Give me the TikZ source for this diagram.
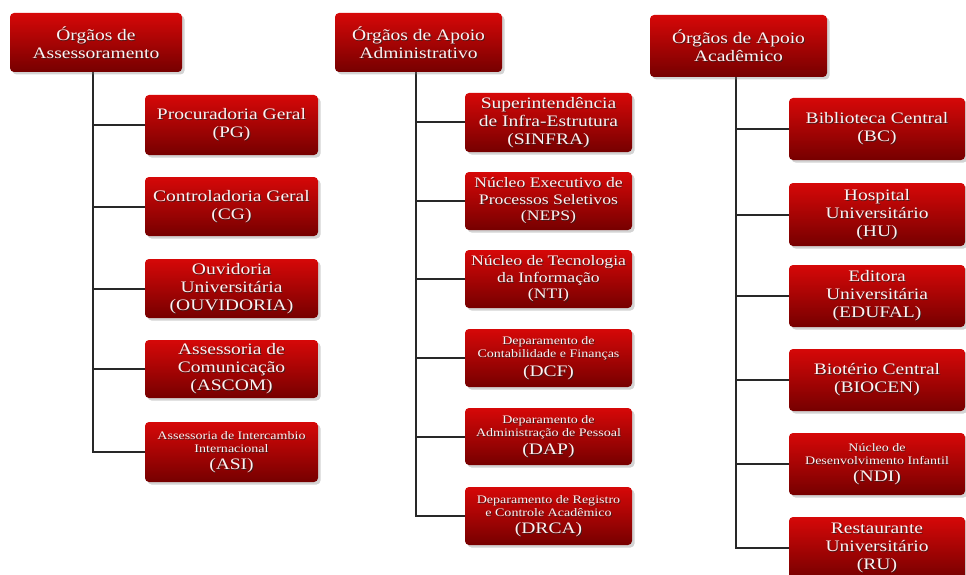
\documentclass[tikz,border=0pt]{standalone}
\usepackage{fontspec}
\setmainfont[FakeStretch=1.22]{Liberation Serif}
\usetikzlibrary{shadows,backgrounds}
\definecolor{boxtop}{RGB}{214,8,8}
\definecolor{boxbot}{RGB}{118,0,0}
\definecolor{linec}{RGB}{40,40,40}
\newcommand{\bigtxt}{\fontsize{16}{18}\selectfont}
\newcommand{\medtxt}{\fontsize{14.5}{16.5}\selectfont}
\newcommand{\smltxt}{\fontsize{11.5}{13}\selectfont}
\tikzset{
  orgbox/.style={rectangle, rounded corners=4pt, top color=boxtop, bottom color=boxbot,
    draw=none, align=center, text=white, inner sep=0pt,
    drop shadow={opacity=0.35, shadow xshift=2.5pt, shadow yshift=-2.5pt}},
  txtshadow/.style={align=center, text=black!85, opacity=0.75, inner sep=0pt},
  txtfront/.style={align=center, text=white!94!red, inner sep=0pt},
  conn/.style={draw=linec, line width=2pt}
}
\newcommand{\orgnode}[6]{%
  \node[orgbox, minimum width=#3pt, minimum height=#4pt] (#1) at (#2) {};
  \node[txtshadow, font=#5] (#1-s) at ([xshift=0.9pt,yshift=-1pt]#1.center) {#6};
  \node[txtfront, font=#5] (#1-t) at (#1.center) {#6};
}
\begin{document}
\begin{tikzpicture}[x=1pt,y=-1pt]
\useasboundingbox (0,0) rectangle (966,575);
% column 1
\orgnode{h1}{96,42.5}{172}{59}{\bigtxt}{Órgãos de\\Assessoramento}
\orgnode{pg}{231.5,125}{173}{60}{\bigtxt}{Procuradoria Geral\\(PG)}
\orgnode{cg}{231.5,206.5}{173}{59}{\bigtxt}{Controladoria Geral\\(CG)}
\orgnode{ouv}{231.5,288.5}{173}{59}{\bigtxt}{Ouvidoria\\Universitária\\(OUVIDORIA)}
\orgnode{ascom}{231.5,369}{173}{58}{\bigtxt}{Assessoria de\\Comunicação\\(ASCOM)}
\orgnode{asi}{231.5,452}{173}{60}{\smltxt}{Assessoria de Intercambio\\Internacional\\[4pt]\bigtxt (ASI)}
% column 2
\orgnode{h2}{418.5,42.5}{167}{59}{\bigtxt}{Órgãos de Apoio\\Administrativo}
\orgnode{sinfra}{548.5,122.5}{167}{59}{\bigtxt}{Superintendência\\de Infra-Estrutura\\(SINFRA)}
\orgnode{neps}{548.5,201}{167}{58}{\medtxt}{Núcleo Executivo de\\Processos Seletivos\\(NEPS)}
\orgnode{nti}{548.5,279}{167}{58}{\medtxt}{Núcleo de Tecnologia\\da Informação\\(NTI)}
\orgnode{dcf}{548.5,358}{167}{58}{\smltxt}{Deparamento de\\Contabilidade e Finanças\\[4pt]\bigtxt (DCF)}
\orgnode{dap}{548.5,436.5}{167}{57}{\smltxt}{Deparamento de\\Administração de Pessoal\\[4pt]\bigtxt (DAP)}
\orgnode{drca}{548.5,516}{167}{58}{\smltxt}{Deparamento de Registro\\e Controle Acadêmico\\[4pt]\bigtxt (DRCA)}
% column 3
\orgnode{h3}{738.5,46}{177}{62}{\bigtxt}{Órgãos de Apoio\\Acadêmico}
\orgnode{bc}{877,129}{176}{62}{\bigtxt}{Biblioteca Central\\(BC)}
\orgnode{hu}{877,214.5}{176}{63}{\bigtxt}{Hospital\\Universitário\\(HU)}
\orgnode{edufal}{877,296}{176}{62}{\bigtxt}{Editora\\Universitária\\(EDUFAL)}
\orgnode{biocen}{877,380}{176}{62}{\bigtxt}{Biotério Central\\(BIOCEN)}
\orgnode{ndi}{877,464}{176}{62}{\smltxt}{Núcleo de\\Desenvolvimento Infantil\\[4pt]\bigtxt (NDI)}
\orgnode{ru}{877,548}{176}{62}{\bigtxt}{Restaurante\\Universitário\\(RU)}
% connectors
\begin{scope}[on background layer]
\foreach \c in {pg,cg,ouv,ascom,asi}{\draw[conn] ([xshift=-3pt]h1.south) |- (\c.west);}
\foreach \c in {sinfra,neps,nti,dcf,dap,drca}{\draw[conn] ([xshift=-2.5pt]h2.south) |- (\c.west);}
\foreach \c in {bc,hu,edufal,biocen,ndi,ru}{\draw[conn] ([xshift=-2.5pt]h3.south) |- (\c.west);}
\end{scope}
\end{tikzpicture}
\end{document}
